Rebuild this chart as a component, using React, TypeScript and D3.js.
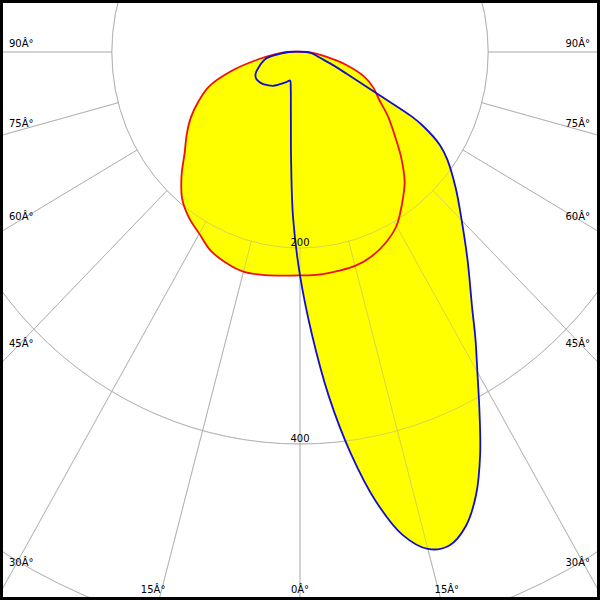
import React from "react";
import * as d3 from "d3";

// Polar photometric data (angle in degrees from nadir, intensity)
const redAngles = [-90, -85, -80, -75, -70, -65, -60, -55, -50, -45, -40, -35, -30, -25, -20, -15, -10, -5, 0, 5, 10, 15, 20, 25, 30, 35, 40, 45, 50, 55, 60, 65, 70, 75, 80, 85, 90];
const redValues = [14, 26, 47, 76, 103, 119, 134, 147, 160, 178, 195, 206, 214, 224, 229, 232, 231, 229, 228, 228, 227, 226, 222, 215, 205, 189, 173, 152, 131, 114, 97, 86, 72, 51, 29, 16, 6];

const blueAngles = [-90, -85, -80, -75, -70, -65, -60, -55, -50, -45, -40, -35, -30, -25, -20, -15, -10, -7.5, -5, -2.5, 0, 2.5, 5, 7.5, 10, 12.5, 15, 17.5, 20, 22.5, 25, 27.5, 30, 32.5, 35, 40, 45, 50, 55, 57.5, 60, 61, 62.5, 65, 67.5, 70, 75, 80, 85, 90];
const blueValues = [12, 22, 36, 42, 47, 52, 54, 53, 51, 48, 45, 41, 37, 34, 31, 38, 56, 74, 109, 169, 228, 288, 353, 413, 466, 505, 525, 528, 515, 489, 453, 413, 377, 347, 319, 277, 243, 216, 191, 176, 151, 136, 94, 61, 45, 34, 21, 16, 12, 7];

const ringValues = [200, 400, 600];
const ringLabels = ["200", "400"];
const spokeAngles = [-90, -75, -60, -45, -30, -15, 0, 15, 30, 45, 60, 75, 90];
const sideLabelAngles = [90, 75, 60, 45, 30];
const bottomLabelAngles = [-15, 0, 15];

const W = 600;
const H = 600;
const CX = 300;
const CY = 52;

const rx = d3.scaleLinear().domain([0, 400]).range([0, 376.4]);
const ry = d3.scaleLinear().domain([0, 400]).range([0, 392]);

const rad = (a: number) => (a * Math.PI) / 180;

type P = { a: number; v: number };

const line = d3
  .line<P>()
  .x((d) => CX + rx(d.v * Math.sin(rad(d.a))))
  .y((d) => CY + ry(d.v * Math.cos(rad(d.a))))
  .curve(d3.curveCatmullRomClosed.alpha(0.5));

const redData: P[] = redAngles.map((a, i) => ({ a, v: redValues[i] }));
const blueData: P[] = blueAngles.map((a, i) => ({ a, v: blueValues[i] }));

const FONT = "'DejaVu Sans', Verdana, sans-serif";

export default function App() {
  const grid = (key: string, stroke: string, opacity: number) => (
    <g key={key} stroke={stroke} strokeOpacity={opacity} fill="none" strokeWidth={1}>
      {ringValues.map((r) => (
        <ellipse key={r} cx={CX} cy={CY} rx={rx(r)} ry={ry(r)} />
      ))}
      {spokeAngles.map((a) => (
        <line
          key={a}
          x1={CX + rx(200 * Math.sin(rad(a)))}
          y1={CY + ry(200 * Math.cos(rad(a)))}
          x2={CX + rx(1000 * Math.sin(rad(a)))}
          y2={CY + ry(1000 * Math.cos(rad(a)))}
        />
      ))}
    </g>
  );

  return (
    <div style={{ position: "absolute", left: 0, top: 0, width: W, height: H }}>
      <svg width={W} height={H} viewBox={`0 0 ${W} ${H}`} style={{ display: "block", background: "#fff" }}>
        <defs>
          <clipPath id="frame">
            <rect x={0} y={0} width={W} height={H} />
          </clipPath>
        </defs>
        <g clipPath="url(#frame)">
          {grid("under", "#c4c4c4", 1)}
          <path d={line(redData) || ""} fill="#ffff00" stroke="none" />
          <path d={line(blueData) || ""} fill="#ffff00" stroke="none" />
          {grid("over", "#a0a0a0", 0.45)}
          <path d={line(redData) || ""} fill="none" stroke="#ee1111" strokeWidth={1.8} />
          <path d={line(blueData) || ""} fill="none" stroke="#1010cc" strokeWidth={1.8} />

          <g fontFamily={FONT} fontSize={10} fill="#000">
            {ringLabels.map((t) => (
              <text key={t} x={CX} y={CY + ry(+t) - 2} textAnchor="middle">
                {t}
              </text>
            ))}
            {sideLabelAngles.map((a) => {
              const y = CY + 300 / Math.tan(rad(a)) - 5.5;
              return (
                <g key={a}>
                  <text x={9} y={y} textAnchor="start">{`${a}Â°`}</text>
                  <text x={590} y={y} textAnchor="end">{`${a}Â°`}</text>
                </g>
              );
            })}
            {bottomLabelAngles.map((a) => (
              <text key={a} x={CX + (H - CY) * Math.tan(rad(a))} y={593} textAnchor="middle">
                {`${Math.abs(a)}Â°`}
              </text>
            ))}
          </g>
        </g>
        <rect x={1.5} y={1.5} width={W - 3} height={H - 3} fill="none" stroke="#000" strokeWidth={3} />
      </svg>
    </div>
  );
}
